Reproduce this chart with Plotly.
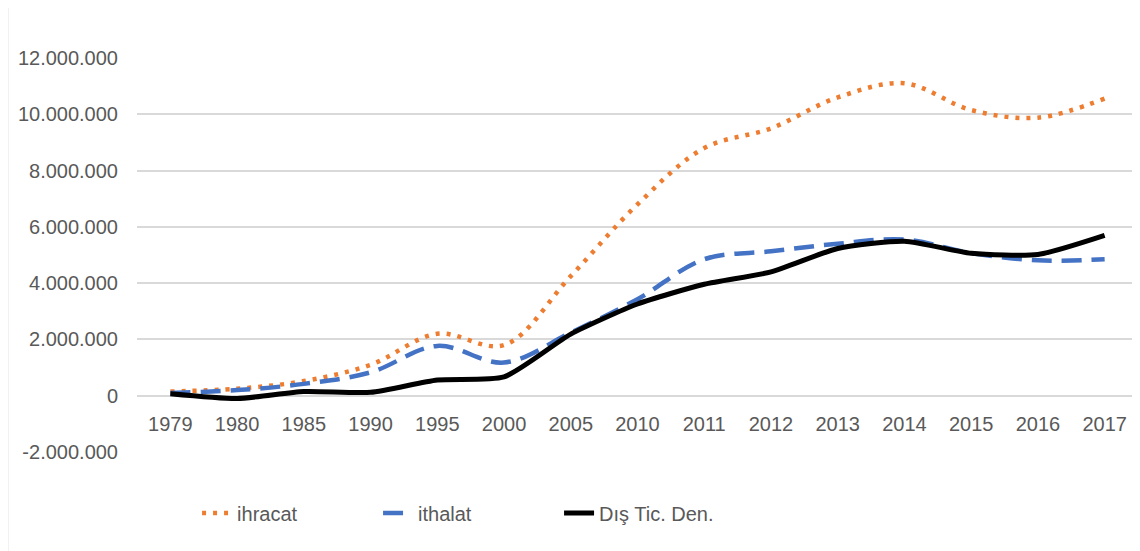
import plotly.graph_objects as go

years = ["1979", "1980", "1985", "1990", "1995", "2000", "2005", "2010",
         "2011", "2012", "2013", "2014", "2015", "2016", "2017"]
ihracat = [150000, 250000, 520000, 1100000, 2200000, 1800000, 4250000, 6800000,
           8800000, 9500000, 10600000, 11100000, 10150000, 9880000, 10560000]
ithalat = [100000, 200000, 420000, 830000, 1770000, 1180000, 2240000, 3430000,
           4850000, 5130000, 5400000, 5550000, 5070000, 4810000, 4850000]
dis_tic = [70000, -100000, 150000, 120000, 560000, 670000, 2190000, 3260000,
           3960000, 4400000, 5230000, 5490000, 5060000, 5020000, 5700000]
y_ticks = [-2000000, 0, 2000000, 4000000, 6000000, 8000000, 10000000, 12000000]
y_ticktext = ["{:,}".format(v).replace(",", ".") for v in y_ticks]

FONT = "Liberation Sans, Arial, sans-serif"
GREY = "#595959"

fig = go.Figure()
fig.add_trace(go.Scatter(x=years, y=ihracat, name="ihracat", mode="lines",
                         line=dict(color="#ED7D31", width=4.5, dash="4px,7px",
                                   shape="spline", smoothing=1.0)))
fig.add_trace(go.Scatter(x=years, y=ithalat, name="ithalat", mode="lines",
                         line=dict(color="#4472C4", width=4.5, dash="20px,10px",
                                   shape="spline", smoothing=1.0)))
fig.add_trace(go.Scatter(x=years, y=dis_tic, name="Dış Tic. Den.", mode="lines",
                         line=dict(color="#000000", width=5,
                                   shape="spline", smoothing=0.6)))

fig.update_layout(
    width=1132, height=543,
    margin=dict(l=129, r=2, t=50, b=99),
    paper_bgcolor="white", plot_bgcolor="white",
    font=dict(family=FONT, size=20, color=GREY),
    showlegend=True,
    legend=dict(orientation="h", x=0.06, xanchor="left", y=-0.155, yanchor="middle",
                font=dict(family=FONT, size=20, color=GREY),
                entrywidth=136, entrywidthmode="pixels", bgcolor="rgba(0,0,0,0)"),
    xaxis=dict(type="category", range=[-0.5, 14.5], showgrid=False, zeroline=False,
               showline=False, ticks="", anchor="free", position=2/14,
               ticklabelstandoff=14,
               tickfont=dict(family=FONT, size=20, color=GREY)),
    yaxis=dict(range=[-2000000, 12000000], tickvals=y_ticks, ticktext=y_ticktext,
               showgrid=True, gridcolor="#D9D9D9", gridwidth=2, zeroline=False,
               showline=False, ticks="", ticklabelstandoff=18,
               tickfont=dict(family=FONT, size=20, color=GREY)),
    shapes=[dict(type="rect", xref="paper", yref="paper",
                 x0=-0.13, x1=1.0, y0=-0.3, y1=1.132,
                 line=dict(color="#D9D9D9", width=3), fillcolor="rgba(0,0,0,0)",
                 layer="below")],
)

fig.write_html("out.html")
